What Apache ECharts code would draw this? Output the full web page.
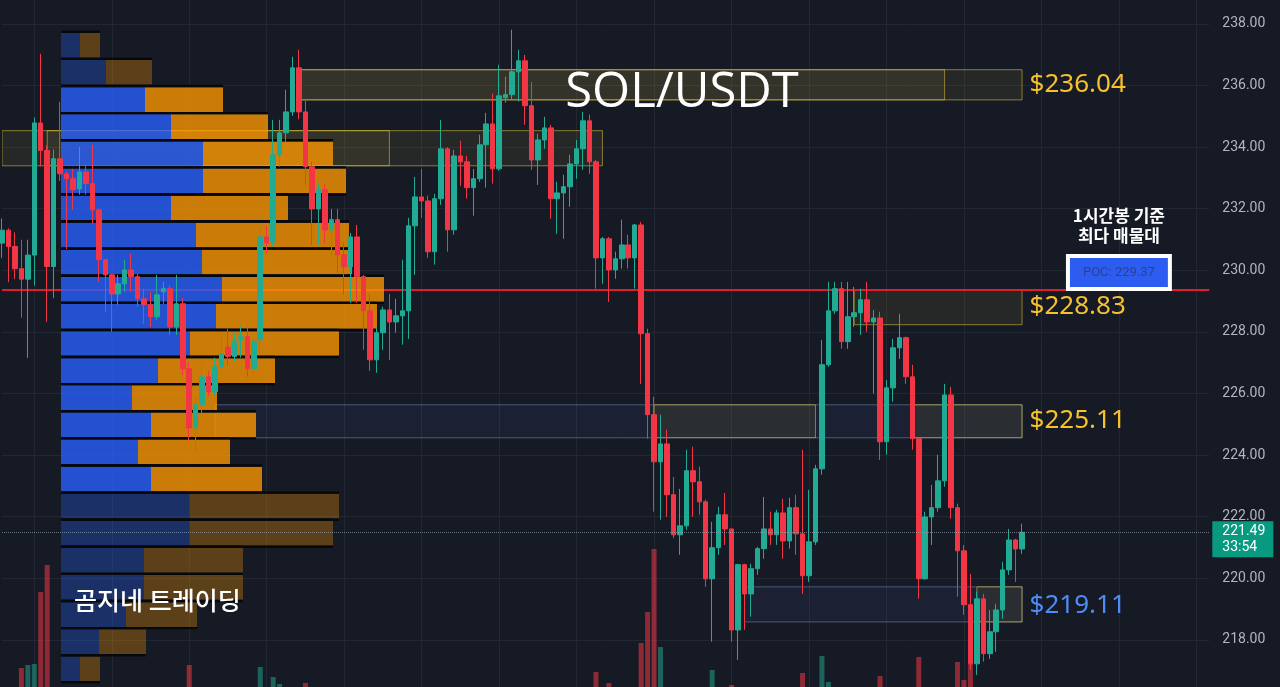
<!DOCTYPE html>
<html><head><meta charset="utf-8">
<script src="https://cdn.jsdelivr.net/npm/echarts@6/dist/echarts.min.js"></script>
<style>html,body{margin:0;padding:0;background:#161a25;}#c{width:1280px;height:687px;}</style>
</head><body><div id="c"></div>
<script>
// ---- data ----
// [open, close, low, high]
const candles = [
[230.88,231.30,230.40,231.68],[231.30,230.77,229.61,231.36],[230.77,230.05,229.71,231.23],[230.05,229.71,228.46,230.99],
[229.71,230.49,227.15,230.99],[230.49,234.78,229.50,234.96],[234.78,233.89,233.37,237.03],[233.89,230.12,228.32,234.06],
[230.12,233.62,229.09,233.92],[233.62,233.13,232.90,235.47],[233.13,232.97,230.69,233.20],[232.97,232.61,231.96,233.29],
[232.64,233.19,232.45,234.00],[233.19,232.81,232.45,233.45],[232.81,231.96,231.50,234.07],[231.96,230.34,229.62,232.00],
[230.34,229.85,228.65,230.37],[229.85,229.23,228.00,229.88],[229.23,229.56,228.88,229.85],[229.56,230.01,229.30,230.34],
[230.01,229.79,229.30,230.53],[229.79,229.07,228.81,229.88],[229.07,228.88,228.26,229.40],[228.88,228.49,228.16,229.30],
[228.49,229.20,228.39,229.85],[229.30,229.40,228.91,229.62],[229.40,228.16,227.90,229.50],[228.16,228.91,227.90,229.85],
[228.91,226.80,226.60,229.10],[226.80,224.88,224.46,227.03],[224.88,225.63,224.10,225.92],[225.63,226.54,225.37,227.03],
[226.54,226.05,225.92,226.73],[226.05,226.86,225.92,227.16],[226.86,227.29,226.73,227.97],[227.50,227.20,226.90,228.10],
[227.20,227.70,227.03,227.97],[227.74,227.84,227.16,228.20],[227.84,226.80,226.54,228.13],[226.80,227.70,226.60,227.84],
[227.74,231.08,227.29,231.38],[231.08,230.89,230.53,231.44],[230.92,233.75,230.76,234.88],[233.75,234.46,233.36,234.88],
[234.46,235.14,234.14,235.86],[235.14,236.57,235.01,236.93],[236.57,235.14,234.90,237.16],[235.14,233.36,232.77,235.56],
[233.36,231.99,230.82,233.52],[231.99,232.61,230.82,232.81],[232.61,231.31,230.89,232.81],[231.31,231.64,230.40,231.99],
[231.64,230.50,229.92,231.99],[230.50,230.11,229.20,230.90],[230.11,231.08,228.94,231.21],[231.08,229.79,228.94,231.47],
[229.79,228.68,227.42,229.85],[228.68,227.09,226.73,229.23],[227.09,227.97,226.67,228.13],[227.97,228.71,227.42,228.81],
[228.71,228.32,227.09,229.23],[228.32,228.52,227.97,229.07],[228.52,228.68,227.58,230.34],[228.68,231.44,227.77,231.70],
[231.44,232.38,229.85,233.03],[232.38,232.25,231.70,233.29],[232.25,230.60,230.40,232.42],[230.60,232.32,230.18,232.48],
[232.32,233.94,232.12,234.88],[233.94,231.31,230.60,234.00],[231.31,233.71,231.15,233.91],[233.71,233.52,232.74,234.20],
[233.52,232.68,232.32,233.71],[232.68,232.97,231.77,233.29],[232.97,234.07,232.87,234.40],[234.07,234.75,232.68,235.11],
[234.75,233.29,232.81,235.73],[233.29,235.66,233.23,236.67],[235.60,235.70,235.44,236.28],[235.70,236.44,235.56,237.81],
[236.44,236.80,235.47,237.16],[236.80,235.34,234.72,236.99],[235.34,233.58,233.26,236.12],[233.58,234.23,232.77,234.43],
[234.23,234.62,233.94,234.98],[234.62,232.32,231.67,234.72],[232.32,232.51,231.18,232.87],[232.51,232.71,231.02,233.10],
[232.71,233.45,232.06,233.75],[233.45,233.94,232.97,234.23],[233.94,234.85,233.26,235.14],[234.85,233.52,233.13,235.05],
[233.52,230.40,229.40,233.58],[230.40,231.02,229.56,231.08],[231.02,230.01,228.97,231.08],[230.01,230.37,229.72,230.60],
[230.37,230.82,230.05,231.64],[230.82,230.40,230.05,231.15],[230.40,231.47,229.40,231.50],[231.47,227.94,226.31,231.57],
[227.94,225.31,224.53,228.10],[225.31,223.78,222.16,225.89],[223.78,224.36,221.90,225.31],[224.36,222.71,221.99,224.82],
[222.71,221.41,221.30,223.29],[221.41,221.70,220.76,222.90],[221.70,223.49,221.57,224.17],[223.49,223.13,221.99,224.27],
[223.13,222.48,222.06,223.62],[222.48,219.98,219.72,222.55],[219.98,220.99,217.94,221.83],[220.99,222.06,220.76,222.32],
[222.06,221.60,221.08,222.77],[221.60,218.32,217.94,221.60],[218.32,220.44,217.35,220.47],[220.44,219.49,218.32,220.47],
[219.49,220.31,218.75,220.47],[220.31,220.96,220.11,221.02],[220.96,221.60,220.63,222.64],[221.60,221.41,221.08,222.16],
[221.41,222.12,221.08,222.22],[222.12,221.21,220.63,222.58],[221.21,222.29,220.96,222.61],[222.29,221.44,220.76,222.71],
[221.44,220.08,219.49,224.17],[220.08,221.18,219.88,222.87],[221.18,223.55,221.08,223.68],[223.55,226.93,223.36,227.74],
[226.93,228.68,226.86,229.62],[228.68,229.40,228.58,229.62],[229.40,227.68,227.45,229.62],[227.68,228.49,227.45,229.62],
[228.49,228.62,228.16,229.46],[228.62,229.04,227.90,229.40],[229.04,228.32,228.00,229.62],[228.32,228.45,225.99,228.71],
[228.45,224.43,223.84,228.65],[224.43,226.18,224.01,226.44],[226.18,227.48,225.73,227.77],[227.48,227.81,227.12,228.58],
[227.81,226.54,226.31,227.84],[226.54,224.53,224.17,226.93],[224.53,219.98,219.33,224.53],[219.98,221.99,219.95,222.16],
[221.99,222.29,221.08,223.03],[222.29,223.16,222.16,224.01],[223.16,225.95,222.97,226.31],[225.95,222.29,221.93,226.21],
[222.29,220.89,219.40,222.42],[220.89,219.14,218.81,221.08],[219.14,217.22,217.03,220.14],[217.22,219.33,216.86,219.56],
[219.33,217.55,217.29,219.49],[217.55,218.26,217.38,218.97],[218.26,218.97,217.61,219.17],[218.97,220.27,218.68,220.53],
[220.27,221.24,220.11,221.60],[221.24,220.95,219.88,221.28],[220.95,221.49,220.79,221.77]
];
const volumes = [
12,12,14,49,52,53,125,152,20,14, 12,10,10,10,12,14,12,12,10,10, 10,10,10,10,10,10,12,12,18,52,
14,12,10,10,10,10,10,10,12,12, 50,14,40,33,16,18,20,34,18,14, 12,12,14,14,12,14,14,16,12,10,
10,10,12,20,16,12,14,14,16,18, 14,12,12,12,14,14,16,18,12,14, 14,16,18,12,10,16,12,12,12,12,
12,14,45,16,34,12,10,10,14,74, 105,168,70,22,20,18,16,14,14,22, 47,16,12,32,22,16,14,12,14,12,
12,12,12,14,44,16,22,61,35,16, 14,14,12,12,14,20,41,18,16,14, 16,20,60,22,16,14,20,24,55,37,
53,24,20,16,14,14,16,14,12
];
const slotCount = 188;
const categories = Array.from({length: slotCount}, (_, i) => String(i));

// volume profile (rows from top to bottom)
const profilePrices = [237.30,236.42,235.54,234.66,233.78,232.90,232.02,231.14,230.26,229.38,228.50,227.62,
                       226.74,225.86,224.98,224.10,223.22,222.34,221.46,220.58,219.70,218.82,217.94,217.06];
const profileBuy  = [19,45,84,110,142,142,110,135,141,161,155,129,97,71,90,77,90,129,129,83,83,65,38,19];
const profileSell = [20,46,78,97,130,143,117,153,150,162,161,149,117,85,105,92,111,149,143,99,99,71,47,20];
const valueArea   = [0,0,1,1,1,1,1,1,1,1,1,1,1,1,1,1,1,0,0,0,0,0,0,0];
const profileBin = 0.88;
const pocPrice = 229.37;
const lastPrice = 221.49;
const countdown = '33:54';

// zones: [startIndex, endIndex, high, low, kind(0 yellow,1 blue)]
const zones = [
[46,146,236.51,235.53,0],[46,158,236.51,235.53,0],
[0,60,234.53,233.39,0],[7,93,234.53,233.39,0],
[132,158,229.36,228.23,0],
[33,158,225.63,224.56,1],[101,126,225.63,224.56,0],[141,158,225.63,224.56,0],
[115,158,219.72,218.58,1],[151,158,219.72,218.58,0]
];
const zoneLabels = [[236.04,0],[228.83,0],[225.11,0],[219.11,1]];
const labelIndex = 158;
const pocLabelIndex = 173;

// ---- chart ----
const UP = '#22ab94', DOWN = '#f23645';
const chart = echarts.init(document.getElementById('c'));
const gridW = 1207.3;

const option = {
  backgroundColor: '#161a25',
  animation: false,
  grid: [
    {left: 2, width: gridW, top: -37.8, height: 739.2, outerBoundsMode: 'none', containLabel: false},
    {left: 2, width: gridW, top: 517, height: 200, outerBoundsMode: 'none', containLabel: false}
  ],
  xAxis: [
    {type: 'category', gridIndex: 0, data: categories, boundaryGap: false,
     axisLine: {show: false}, axisTick: {show: false}, axisLabel: {show: false},
     splitLine: {show: true, interval: (i) => (i - 5) % 12 === 0, lineStyle: {color: '#232733', width: 1}}},
    {type: 'value', gridIndex: 0, min: -59, max: gridW - 59, show: false},
    {type: 'category', gridIndex: 1, data: categories, boundaryGap: false, show: false}
  ],
  yAxis: [
    {type: 'value', gridIndex: 0, position: 'right', min: 216, max: 240, interval: 2,
     axisLine: {show: false}, axisTick: {show: false},
     axisLabel: {color: '#b2b5be', fontSize: 14, margin: 13, fontFamily: 'Roboto', formatter: v => v.toFixed(2)},
     splitLine: {lineStyle: {color: '#232733', width: 1}}},
    {type: 'value', gridIndex: 1, min: 0, max: 200, show: false}
  ],
  graphic: [
    {type: 'text', x: 682, y: 93, z: 100, style: {text: 'SOL/USDT', fill: '#ffffff', fontSize: 49, fontFamily: 'Open Sans', align: 'center', verticalAlign: 'middle', textAlign: 'center', textVerticalAlign: 'middle'}},
    {type: 'text', x: 74, y: 600, z: 100, style: {text: '곰지네 트레이딩', fill: '#ffffff', fontSize: 25, fontWeight: 500, fontFamily: 'Noto Sans CJK KR', align: 'left', verticalAlign: 'middle', textAlign: 'left', textVerticalAlign: 'middle'}}
  ],
  series: [
    {
      type: 'custom', name: 'zones', xAxisIndex: 0, yAxisIndex: 0, z: 1, clip: true,
      data: zones,
      renderItem: (params, api) => {
        const p1 = api.coord([api.value(0), api.value(2)]);
        const p2 = api.coord([api.value(1), api.value(3)]);
        const blue = api.value(4) === 1;
        return {type: 'rect', shape: {x: p1[0], y: p1[1], width: p2[0] - p1[0], height: p2[1] - p1[1]},
          style: {fill: blue ? 'rgba(90,130,200,0.08)' : 'rgba(200,180,70,0.09)',
                  stroke: blue ? 'rgba(120,150,200,0.5)' : 'rgba(230,200,60,0.55)', lineWidth: 1}};
      },
      markPoint: {
        symbol: 'circle', symbolSize: 1, itemStyle: {color: 'rgba(0,0,0,0)'}, z: 20,
        data: zoneLabels.map(([p, k]) => ({coord: [labelIndex, p], value: p,
          label: {show: true, position: 'right', distance: 7, formatter: '$' + p.toFixed(2),
                  color: k ? '#4f8cf5' : '#f6c12c', fontSize: 26, fontFamily: 'Noto Sans'}}))
      }
    },
    {
      type: 'line', name: 'poc', xAxisIndex: 0, yAxisIndex: 0, data: candles.map(() => null), z: 2,
      markLine: {symbol: ['none', 'none'], silent: true, z: 2, label: {show: false},
        lineStyle: {color: '#e01e2b', width: 2, type: 'solid'}, data: [{yAxis: pocPrice}]}
    },
    {
      type: 'custom', name: 'profile', xAxisIndex: 1, yAxisIndex: 0, z: 3,
      encode: {x: 1, y: 0},
      data: profilePrices.map((p, i) => [p, profileBuy[i], profileSell[i], valueArea[i]]),
      renderItem: (params, api) => {
        const c = api.value(0), b = api.value(1), s = api.value(2), va = api.value(3);
        const yt = api.coord([0, c + profileBin / 2])[1];
        const yb = api.coord([0, c - profileBin / 2])[1];
        const x0 = api.coord([0, c])[0];
        const xb = api.coord([b, c])[0];
        const xs = api.coord([b + s, c])[0];
        const blue = va ? 'rgba(41,98,255,0.78)' : 'rgba(41,98,255,0.3)';
        const orange = va ? 'rgba(255,152,0,0.78)' : 'rgba(255,152,0,0.3)';
        return {type: 'group', children: [
          {type: 'rect', shape: {x: x0, y: yt + 1.2, width: xb - x0, height: yb - yt - 2.4}, style: {fill: blue}},
          {type: 'rect', shape: {x: xb, y: yt + 1.2, width: xs - xb, height: yb - yt - 2.4}, style: {fill: orange}},
          {type: 'line', shape: {x1: x0, y1: yt, x2: xs, y2: yt}, style: {stroke: '#07080c', lineWidth: 2.4}},
          {type: 'line', shape: {x1: x0, y1: yb, x2: xs, y2: yb}, style: {stroke: '#07080c', lineWidth: 2.4}}
        ]};
      }
    },
    {
      type: 'bar', name: 'volume', xAxisIndex: 2, yAxisIndex: 1, z: 2, barWidth: 5,
      data: volumes.map((v, i) => ({value: v, itemStyle: {color: candles[i][1] >= candles[i][0] ? 'rgba(34,171,148,0.5)' : 'rgba(242,54,69,0.55)'}}))
    },
    {
      type: 'candlestick', name: 'SOL/USDT', xAxisIndex: 0, yAxisIndex: 0, z: 5, barWidth: 5,
      data: candles,
      itemStyle: {color: UP, color0: DOWN, borderColor: UP, borderColor0: DOWN, borderWidth: 1},
      markLine: {symbol: ['none', 'none'], silent: true, z: 6,
        data: [{yAxis: lastPrice,
          lineStyle: {color: 'rgba(150,165,180,0.65)', width: 1, type: 'dotted'},
          label: {show: true, position: 'end', distance: 3, offset: [0, 7], formatter: lastPrice.toFixed(2) + '\n' + countdown,
                  backgroundColor: '#089981', color: '#ffffff', fontSize: 14, lineHeight: 16, fontFamily: 'Roboto',
                  padding: [2, 8, 2, 10], align: 'left'}}]},
      markPoint: {symbol: 'circle', symbolSize: 1, itemStyle: {color: 'rgba(0,0,0,0)'}, z: 30,
        data: [
          {coord: [pocLabelIndex, pocPrice], value: pocPrice,
           label: {show: true, position: 'top', distance: 2, formatter: 'POC: ' + pocPrice.toFixed(2),
                   backgroundColor: '#2c5cf0', borderColor: '#ffffff', borderWidth: 4, padding: [8, 13, 8, 13],
                   color: '#2a438f', fontSize: 13, fontFamily: 'Roboto'}},
          {coord: [pocLabelIndex, pocPrice], value: pocPrice,
           label: {show: true, position: 'top', distance: 44, formatter: '1시간봉 기준\n최다 매물대',
                   color: '#ffffff', fontSize: 17, fontWeight: 'bold', lineHeight: 20, align: 'center',
                   fontFamily: 'Noto Sans CJK KR'}}
        ]}
    }
  ]
};
chart.setOption(option);
</script>
</body></html>
